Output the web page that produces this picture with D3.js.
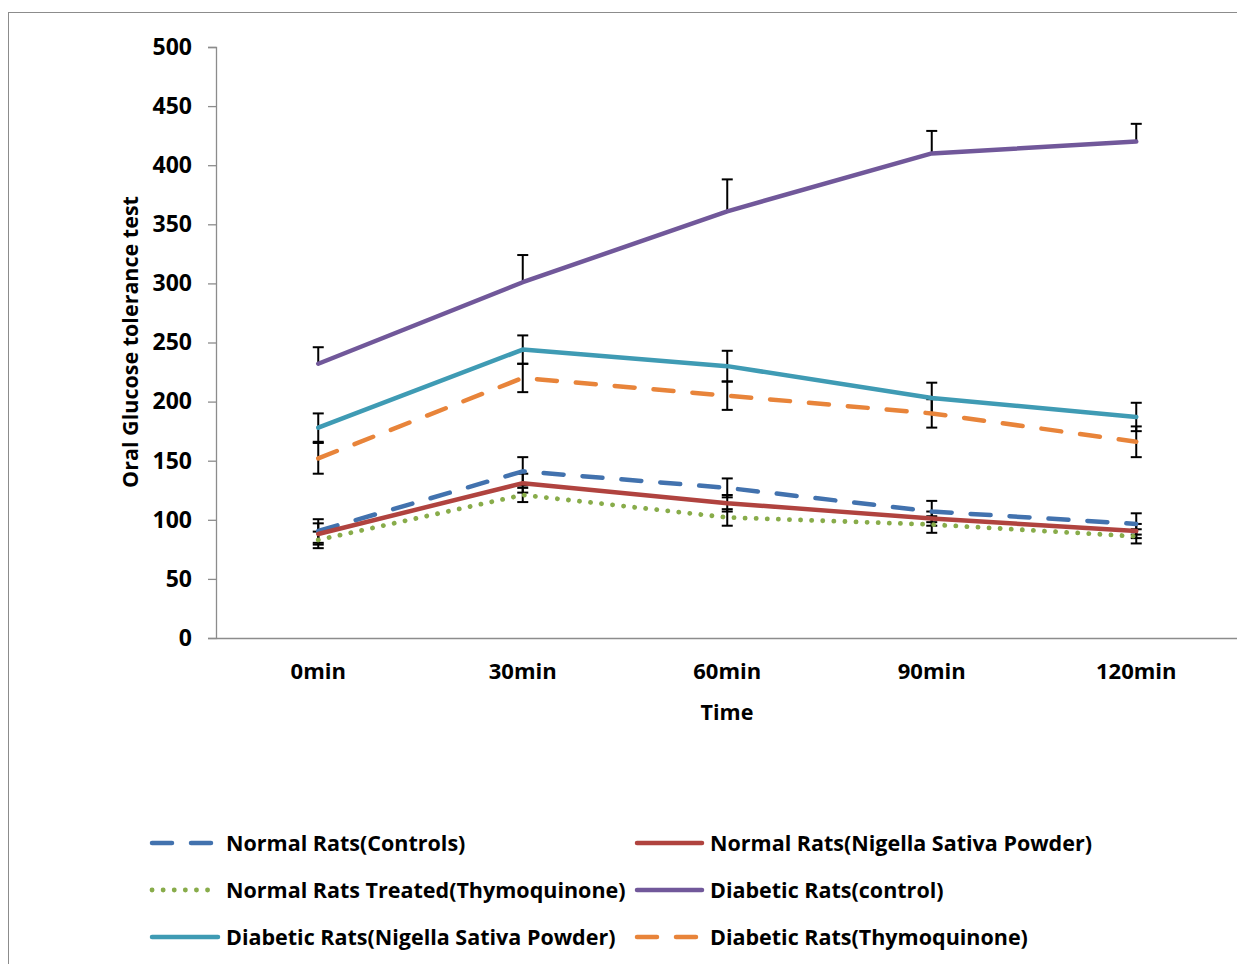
<!DOCTYPE html>
<html><head><meta charset="utf-8">
<script src="https://cdn.jsdelivr.net/npm/d3@7"></script>
<style>body{margin:0;background:#fff}svg{display:block}text{font-family:"Open Sans",sans-serif;font-weight:bold;fill:#000}</style>
</head><body>
<script>
const categories = ["0min","30min","60min","90min","120min"];
const yTicks = [0,50,100,150,200,250,300,350,400,450,500];
const seriesNames = ["Normal Rats(Controls)","Normal Rats(Nigella Sativa Powder)","Normal Rats Treated(Thymoquinone)","Diabetic Rats(control)","Diabetic Rats(Nigella Sativa Powder)","Diabetic Rats(Thymoquinone)"];
const normalControls = [90.5,141,127,107,96.5];
const normalNigella = [88,131,114,101,90.5];
const normalThymo = [83,121,102,96,86];
const diabeticControl = [232,301,361,410,420];
const diabeticNigella = [178,244,230,203,187];
const diabeticThymo = [152,220,205,190,166];
const errNormalControls = [10,12,8,9,9];
const errNormalNigella = [9,8,7,6,6];
const errNormalThymo = [7,6,7,7,6];
const errDiabeticControl = [14,23,27,19,15];
const errDiabeticNigella = [12,12,13,13,12];
const errDiabeticThymo = [13,12,12,12,13];

const W=1237,H=964;
const FF='"Open Sans",sans-serif';
const svg=d3.select("body").append("svg").attr("width",W).attr("height",H);
svg.append("rect").attr("x",8.5).attr("y",12.5).attr("width",1240).attr("height",960)
  .attr("fill","none").attr("stroke","#8c8c8c").attr("stroke-width",1);

const x=d3.scaleBand().domain(categories).range([216,1238.5]);
const y=d3.scaleLinear().domain([0,500]).range([638,47]);

const styles=[
 {color:"#4272AE",dash:"20,19",cap:"round"},
 {color:"#B0433F",dash:null,cap:"round"},
 {color:"#88AC4A",dash:"0.1,11",cap:"round",w:4.8},
 {color:"#71589A",dash:null,cap:"round"},
 {color:"#3F9BB4",dash:null,cap:"round"},
 {color:"#E8843A",dash:"20,19",cap:"round"}
];
const data=[normalControls,normalNigella,normalThymo,diabeticControl,diabeticNigella,diabeticThymo];
const errs=[errNormalControls,errNormalNigella,errNormalThymo,errDiabeticControl,errDiabeticNigella,errDiabeticThymo];
const plusOnly=[false,false,false,true,false,false];

// axes
const yAxis=svg.append("g").attr("transform","translate(216,0)")
  .call(d3.axisLeft(y).tickValues(yTicks).tickSize(8).tickPadding(16));
yAxis.select(".domain").attr("stroke","#8c8c8c").attr("stroke-width",1.3);
yAxis.selectAll(".tick line").attr("stroke","#8c8c8c").attr("stroke-width",1.3);
yAxis.selectAll(".tick text").attr("font-size",23).attr("font-family",FF).attr("font-weight","bold").attr("fill","#000");

const xAxis=svg.append("g").attr("transform","translate(0,638)")
  .call(d3.axisBottom(x).tickSize(0).tickPadding(25));
xAxis.select(".domain").attr("stroke","#8c8c8c").attr("stroke-width",1.3);
xAxis.selectAll(".tick text").attr("font-size",22).attr("font-family",FF).attr("font-weight","bold").attr("fill","#000");

svg.append("text").attr("x",727).attr("y",720).attr("text-anchor","middle").attr("font-size",21.5).text("Time");
svg.append("text").attr("transform","translate(138,342) rotate(-90)").attr("text-anchor","middle").attr("font-size",21.5).text("Oral Glucose tolerance test");

const cx=c=>x(c)+x.bandwidth()/2;
const line=d3.line().x((d,i)=>cx(categories[i])).y(d=>y(d));

// error bars
const eb=svg.append("g").attr("stroke","#000").attr("stroke-width",2);
data.forEach((s,k)=>{
  s.forEach((v,i)=>{
    const px=cx(categories[i]);
    const top=y(v+errs[k][i]);
    const bot=plusOnly[k]?y(v):y(v-errs[k][i]);
    eb.append("line").attr("x1",px).attr("x2",px).attr("y1",top).attr("y2",bot);
    eb.append("line").attr("x1",px-5.5).attr("x2",px+5.5).attr("y1",top).attr("y2",top);
    if(!plusOnly[k]) eb.append("line").attr("x1",px-5.5).attr("x2",px+5.5).attr("y1",bot).attr("y2",bot);
  });
});

// lines
data.forEach((s,k)=>{
  const st=styles[k];
  svg.append("path").datum(s).attr("d",line).attr("fill","none")
    .attr("stroke",st.color).attr("stroke-width",st.w||4.5)
    .attr("stroke-linecap",st.cap).attr("stroke-linejoin","round")
    .attr("stroke-dasharray",st.dash);
});

// legend
const legRows=[843,890,937];
const legCols=[{x1:152,x2:218,tx:226},{x1:637,x2:702,tx:710}];
seriesNames.forEach((n,k)=>{
  const r=Math.floor(k/2), c=k%2;
  const st=styles[k], L=legCols[c], yy=legRows[r];
  svg.append("line").attr("x1",L.x1).attr("x2",L.x2).attr("y1",yy).attr("y2",yy)
    .attr("stroke",st.color).attr("stroke-width",st.w||4.5).attr("stroke-linecap",st.cap)
    .attr("stroke-dasharray",st.dash);
  svg.append("text").attr("x",L.tx).attr("y",yy).attr("dy","0.35em").attr("font-size",21.5).text(n);
});
</script>
</body></html>
